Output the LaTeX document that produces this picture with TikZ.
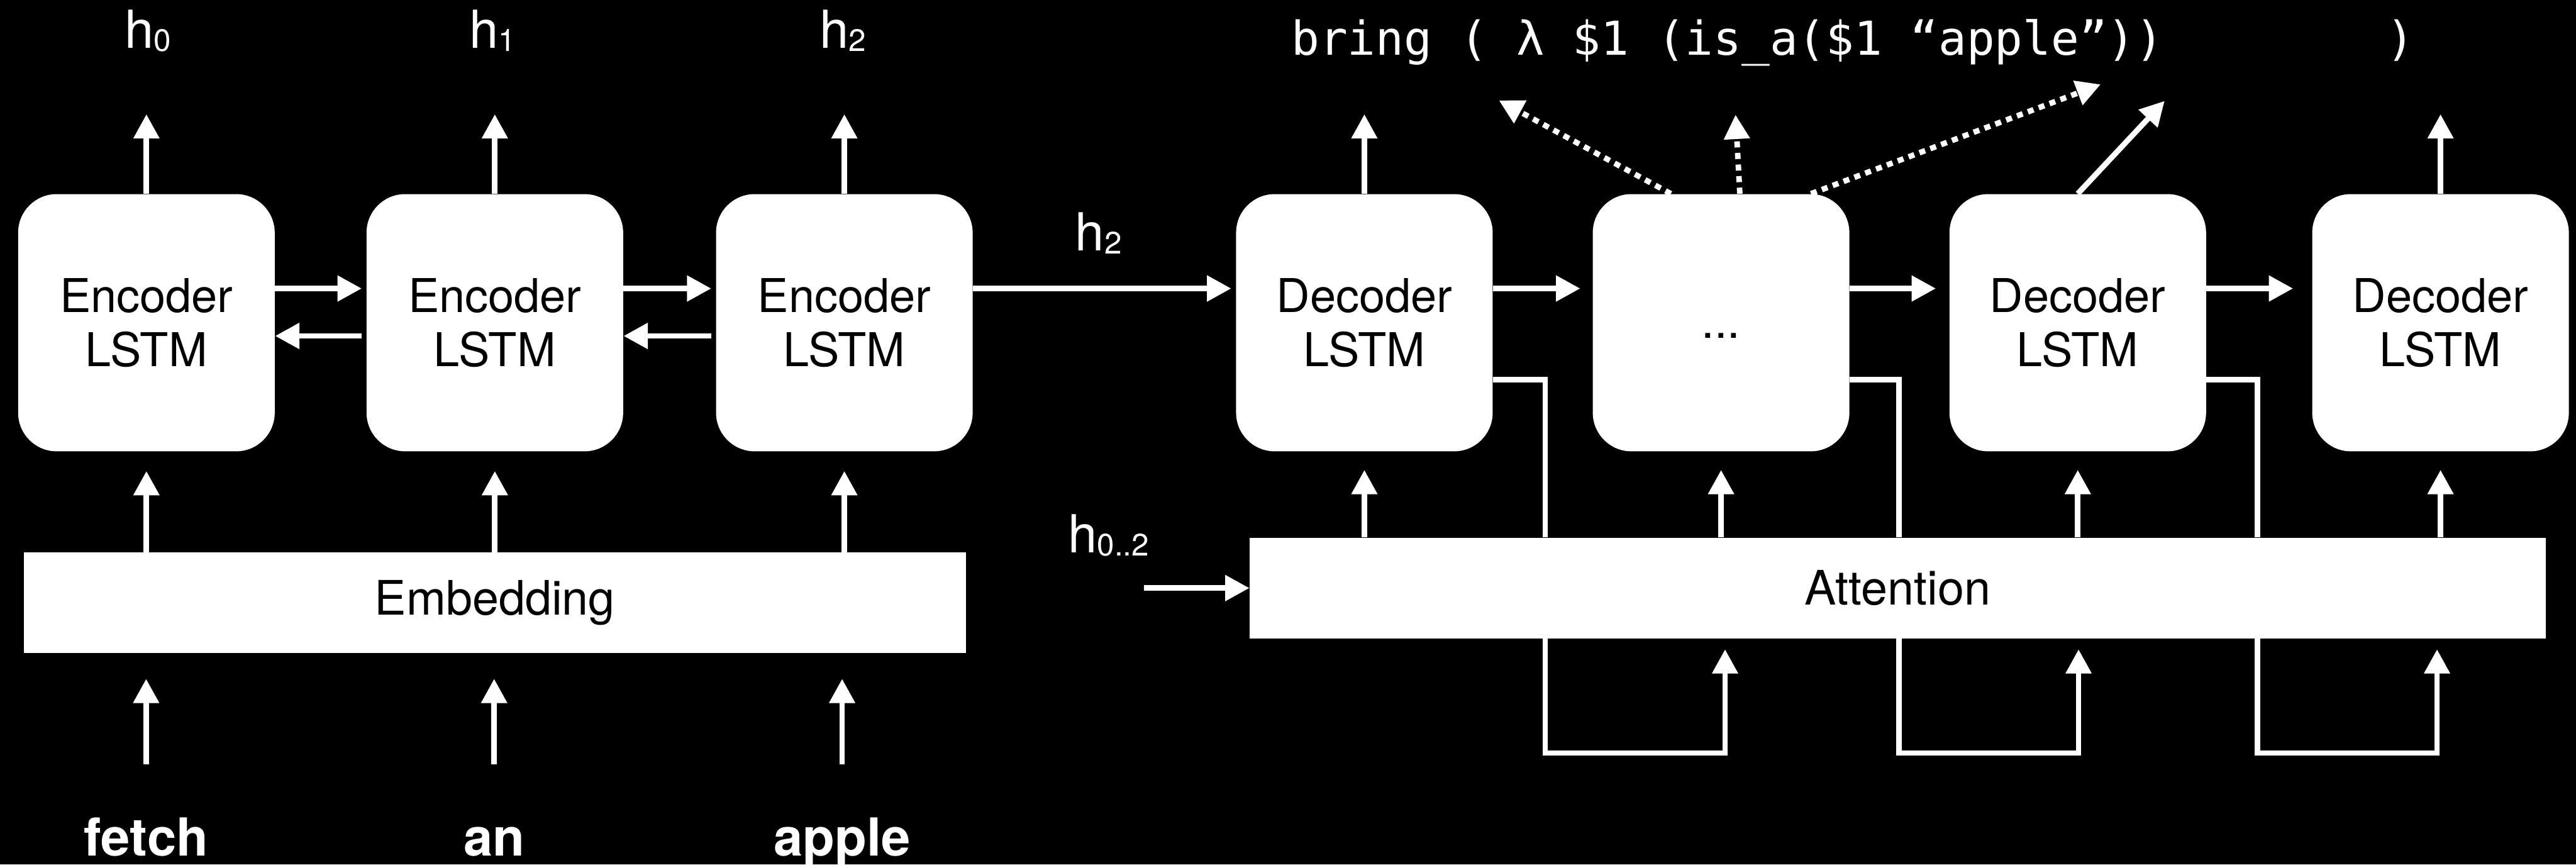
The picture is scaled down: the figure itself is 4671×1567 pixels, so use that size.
\documentclass[tikz,border=0pt]{standalone}
\usepackage{fontspec}
\setmainfont{TeX Gyre Heros}
\setmonofont{DejaVu Sans Mono}
\usepackage{tikz}
\usetikzlibrary{arrows.meta,positioning}
% lowered small index for the hidden states
\newcommand{\hsub}[1]{\raisebox{-0.06cm}{\fontsize{16}{16}\selectfont #1}}
\tikzset{
    %Define standard arrow tip
    >={Triangle[length=4.4mm, width=4.5mm]},
    %Define style for the LSTM cells
    cell/.style={
           rectangle,
           rounded corners=7mm,
           fill=white, text=black,
           minimum width=4.65cm,
           minimum height=4.66cm,
           inner sep=0pt,
           align=center,
           font=\fontsize{24}{28}\selectfont},
    %Define style for the wide layers
    layer/.style={
           rectangle,
           fill=white, text=black,
           minimum height=1.82cm,
           inner sep=0pt,
           font=\fontsize{24.5}{28}\selectfont},
    lbl/.style={
           text=white,
           inner sep=0pt,
           anchor=base,
           font=\fontsize{27}{30}\selectfont},
    word/.style={
           lbl,
           font=\fontsize{27}{30}\selectfont\bfseries},
    code/.style={
           text=white,
           inner sep=0pt,
           anchor=base west,
           font=\fontsize{24.1}{28}\selectfont\ttfamily},
    % Define arrow style
    wire/.style={
           draw=white,
           line width=1mm},
    pil/.style={
           wire, ->},
    dotpil/.style={
           pil,
           dash pattern=on 1.1mm off 1mm}
}
\begin{document}
\begin{tikzpicture}[x=0.01cm, y=-0.01cm]
\fill[black] (0,0) rectangle (4671,1567);
\useasboundingbox (0,0) rectangle (4671,1567);

 %nodes
\node[cell] (enc1) at (265.5,585) {Encoder\\LSTM};
\node[cell, right=1.65cm of enc1] (enc2) {Encoder\\LSTM};
\node[cell, right=1.67cm of enc2] (enc3) {Encoder\\LSTM};
\node[cell, right=4.76cm of enc3] (dec1) {Decoder\\LSTM};
\node[cell, right=1.8cm of dec1, text height=0.55cm, text depth=0pt] (dots) {...};
\node[cell, right=1.8cm of dots] (dec3) {Decoder\\LSTM};
\node[cell, right=1.91cm of dec3] (dec4) {Decoder\\LSTM};

\node[layer, minimum width=17.08cm, below=1.82cm of enc2] (emb) {Embedding};
\node[layer, minimum width=23.48cm] (att) at (3441,1066) {Attention};

\node[lbl] (h0) at (268,87) {h\hsub{0}};
\node[lbl] (h1) at (893,87) {h\hsub{1}};
\node[lbl] (h2) at (1528,87) {h\hsub{2}};
\node[lbl] (hlast) at (1992,454) {h\hsub{2}};
\node[lbl] (hall) at (2010,1002) {h\hsub{0..2}};

\foreach \w/\x [count=\i] in {fetch/265, an/896, apple/1527}
    \node[word] (w\i) at (\x,1551) {\w};

\node[code] (prog) at (2341,100) {bring ( λ \$1 (is\_a(\$1 “apple”))};
\node[code] (close) at (4326,100) {)};

 %free ends
\coordinate (p1) at (2718,182);
\coordinate (p2) at (3147,208);
\coordinate (p3) at (3809,153);
\coordinate (p4) at (3925,183);
\coordinate (hin) at (2074,1066);
\coordinate (r1) at (2802,1365);
\coordinate (r2) at (3443,1365);
\coordinate (r3) at (4093,1365);
\coordinate (a1) at (3128,1177);
\coordinate (a2) at (3769,1177);
\coordinate (a3) at (4419,1177);

 %outputs
\foreach \n in {enc1,enc2,enc3,dec1,dec4} {
    \coordinate (\n-out) at ([yshift=1.44cm]\n.north);
    \draw[pil] (\n.north) -- (\n-out);
}
\draw[pil] (dec3.north) -- (p4);
\draw[dotpil] ([xshift=-0.91cm]dots.north) -- (p1);
\draw[dotpil] ([xshift=0.34cm]dots.north) -- (p2);
\draw[dotpil] ([xshift=1.63cm]dots.north) -- (p3);

 %encoder
\foreach \i in {1,2,3} {
    \coordinate (in\i) at (w\i |- 0,1385);
    \draw[pil, shorten >=0.46cm] (in\i) -- (in\i |- emb.south);
    \draw[pil, shorten >=0.35cm] (emb.north -| enc\i) -- (enc\i.south);
}
\draw[pil, shorten >=0.08cm] ([yshift=0.62cm]enc1.east) -- ([yshift=0.62cm]enc2.west);
\draw[pil, shorten >=0.08cm] ([yshift=0.62cm]enc2.east) -- ([yshift=0.62cm]enc3.west);
\draw[pil, shorten <=0.08cm] ([yshift=-0.24cm]enc2.west) -- ([yshift=-0.24cm]enc1.east);
\draw[pil, shorten <=0.08cm] ([yshift=-0.24cm]enc3.west) -- ([yshift=-0.24cm]enc2.east);
\draw[pil, shorten >=0.08cm] ([yshift=0.62cm]enc3.east) -- ([yshift=0.62cm]dec1.west);

 %decoder
\draw[pil, shorten >=0.22cm] ([yshift=0.62cm]dec1.east) -- ([yshift=0.62cm]dots.west);
\draw[pil, shorten >=0.24cm] ([yshift=0.62cm]dots.east) -- ([yshift=0.62cm]dec3.west);
\draw[pil, shorten >=0.34cm] ([yshift=0.62cm]dec3.east) -- ([yshift=0.62cm]dec4.west);
\foreach \n in {dec1,dots,dec3,dec4}
    \draw[pil, shorten >=0.33cm] (att.north -| \n) -- (\n.south);
\draw[pil] (hin) -- (att.west);

 %feedback through attention
\draw[wire] ([yshift=-1.03cm]dec1.east) -| (att.north -| r1);
\draw[pil] (att.south -| r1) |- (a1 |- r1) -- (a1);
\draw[wire] ([yshift=-1.03cm]dots.east) -| (att.north -| r2);
\draw[pil] (att.south -| r2) |- (a2 |- r2) -- (a2);
\draw[wire] ([yshift=-1.03cm]dec3.east) -| (att.north -| r3);
\draw[pil] (att.south -| r3) |- (a3 |- r3) -- (a3);
\end{tikzpicture}
\end{document}
